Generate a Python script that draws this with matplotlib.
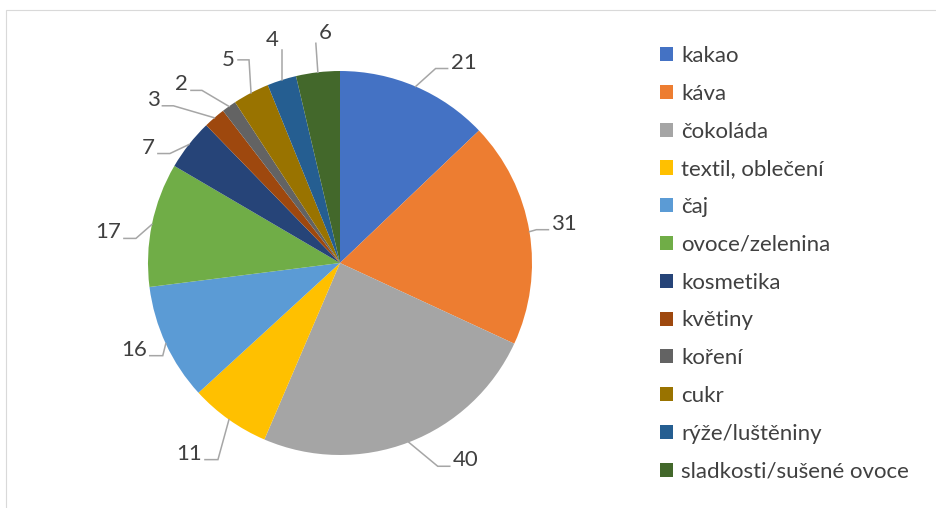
import numpy as np
import matplotlib.pyplot as plt
from matplotlib.patches import Rectangle

plt.rcParams['font.family'] = ['Lato', 'DejaVu Sans']

# data
kategorie = ['kakao', 'káva', 'čokoláda', 'textil, oblečení', 'čaj', 'ovoce/zelenina',
             'kosmetika', 'květiny', 'koření', 'cukr', 'rýže/luštěniny',
             'sladkosti/sušené ovoce']
hodnoty = [21, 31, 40, 11, 16, 17, 7, 3, 2, 5, 4, 6]
barvy = ['#4472C4', '#ED7D31', '#A5A5A5', '#FFC000', '#5B9BD5', '#70AD47',
         '#264478', '#9E480E', '#636363', '#997300', '#255E91', '#43682B']

W, H = 936, 508
R = 192          # polomer kolace v pixelech
cx, cy = 340, 263  # stred kolace (px od leveho horniho rohu)

# lom vodici cary vuci okraji vyseče (px, y dolu)
lom = [(20, -18), (7, -2), (29, 24), (-11, 40), (-3, 12), (-16, 14),
       (-19, 9), (-41, -12), (-27, -16), (-2, -33), (0, -30), (-2, -29)]
# vodorovny usek u popisku (px, znamenko = smer)
usek = [12, 12, 12, -13, -13, -12, -12, -11, -11, -11, 0, 0]
zarovnani = [('left', 'baseline')] * 3 + [('right', 'baseline')] * 6 + \
    [('right', 'center'), ('right', 'bottom'), ('left', 'bottom')]

barva_textu = '#404040'
barva_car = '#A6A6A6'
velikost = 16

fig = plt.figure(figsize=(W / 100, H / 100), dpi=100)
ax = fig.add_axes([(cx - R) / W, (H - cy - R) / H, 2 * R / W, 2 * R / H])
wedges, _ = ax.pie(hodnoty, colors=barvy, startangle=90, counterclock=False,
                   radius=1, wedgeprops=dict(linewidth=0))
ax.set_xlim(-1, 1)
ax.set_ylim(-1, 1)
ax.axis('off')

# popisky hodnot s vodicimi carami
for w, v, (dx, dy), s, (ha, va) in zip(wedges, hodnoty, lom, usek, zarovnani):
    ang = np.deg2rad((w.theta1 + w.theta2) / 2)
    ex, ey = np.cos(ang), np.sin(ang)
    bx, by = ex + dx / R, ey - dy / R
    kx = bx + s / R
    ax.plot([ex, bx, kx], [ey, by, by], color=barva_car, lw=1.1,
            clip_on=False, solid_joinstyle='miter')
    if s != 0:
        tx = kx + np.sign(s) * 3 / R
    else:
        tx = bx + (3 / R if ha == 'left' else -3 / R)
    ax.text(tx, by, str(v), ha=ha, va=va, fontsize=velikost, color=barva_textu)

leg = fig.legend(wedges, kategorie, loc='upper left',
                 bbox_to_anchor=(660 / W, 1 - 46 / H), frameon=False,
                 fontsize=velikost, handlelength=0.6, handleheight=0.6,
                 handletextpad=0.35, labelspacing=0.8, borderpad=0,
                 borderaxespad=0)
for t in leg.get_texts():
    t.set_color(barva_textu)

# ramecek grafu
fig.add_artist(Rectangle((6 / W, -0.1), 2, 1 - 10 / H + 0.1,
                         transform=fig.transFigure, fill=False,
                         ec='#D9D9D9', lw=0.8))

fig.savefig('out.png', dpi=100)
